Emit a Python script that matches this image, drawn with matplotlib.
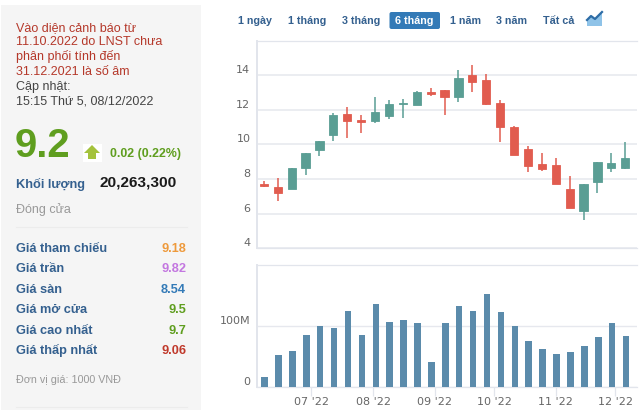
import datetime as dt
import matplotlib
matplotlib.use("Agg")
import matplotlib.pyplot as plt
import matplotlib.dates as mdates
from matplotlib.patches import Rectangle, FancyBboxPatch, Polygon
from matplotlib.transforms import ScaledTranslation

# ---------- data ----------
first_week = dt.date(2022, 6, 7)
dates = [first_week + dt.timedelta(days=7 * i) for i in range(27)]
opens = [7.70, 7.56, 7.43, 8.66, 9.68, 10.53, 11.75, 11.40, 11.36, 11.67, 12.32, 12.29, 13.04, 13.15,
         12.75, 14.00, 13.71, 12.42, 11.01, 9.72, 8.87, 8.80, 7.45, 6.18, 7.83, 8.66, 8.66]
closes = [7.60, 7.22, 8.62, 9.53, 10.20, 11.69, 11.38, 11.32, 11.86, 12.36, 12.38, 13.04, 12.90, 12.73,
          13.85, 13.63, 12.34, 11.03, 9.39, 8.78, 8.60, 7.72, 6.35, 7.72, 8.97, 8.91, 9.20]
highs = [7.89, 8.07, 8.62, 9.53, 10.20, 11.80, 12.15, 11.69, 12.77, 12.59, 12.65, 13.09, 13.27, 13.15,
         14.29, 14.58, 14.08, 12.59, 11.05, 9.93, 9.49, 9.22, 8.18, 7.72, 8.97, 9.49, 10.17]
lows = [7.56, 6.74, 7.43, 8.26, 9.34, 10.22, 10.36, 10.69, 11.26, 11.48, 11.53, 12.29, 12.82, 11.71,
        12.48, 13.06, 12.27, 10.17, 9.39, 8.43, 8.49, 7.72, 6.35, 5.66, 7.18, 8.43, 8.60]
volumes_m = [16.5, 52, 60, 86, 100, 97, 126, 86, 137, 107, 110, 105, 42, 105, 134, 125, 153, 123,
             100, 76, 62, 55, 57, 68, 82, 105, 84]
price_ticks = [4, 6, 8, 10, 12, 14]
volume_ticks = [0, 100]
volume_tick_labels = ["0", "100M"]
month_ticks = [dt.date(2022, m, 1) for m in range(7, 13)]
month_labels = ["07 '22", "08 '22", "09 '22", "10 '22", "11 '22", "12 '22"]
tabs = ["1 ngày", "1 tháng", "3 tháng", "6 tháng", "1 năm", "3 năm", "Tất cả"]
notice_lines = ["Vào diện cảnh báo từ", "11.10.2022 do LNST chưa", "phân phối tính đến", "31.12.2021 là số âm"]
update_lines = ["Cập nhật:", "15:15 Thứ 5, 08/12/2022"]
stat_names = ["Giá tham chiếu", "Giá trần", "Giá sàn", "Giá mở cửa", "Giá cao nhất", "Giá thấp nhất"]
stat_values = ["9.18", "9.82", "8.54", "9.5", "9.7", "9.06"]
stat_colors = ["#ee9a3c", "#c377e0", "#337ab7", "#5f9e1f", "#5f9e1f", "#c0392b"]

# ---------- layout ----------
W, H = 640, 413
GREEN, RED, VOL = "#5a9e94", "#e15c4f", "#5b8bab"
GRID, FRAME, TICKTXT = "#e6e8ee", "#e2e5ec", "#666666"
SANS = "Liberation Sans"
PX = 72 / 100  # points per pixel

fig = plt.figure(figsize=(W / 100, H / 100), dpi=100, facecolor="white")


def axes_px(x0, y_top, x1, y_bottom):
    return fig.add_axes([x0 / W, 1 - y_bottom / H, (x1 - x0) / W, (y_bottom - y_top) / H])


# overlay for the side panel and buttons, in pixel coordinates
ov = fig.add_axes([0, 0, 1, 1], zorder=0)
ov.set_xlim(0, W)
ov.set_ylim(H, 0)
ov.axis("off")


def txt(x, y, s, px, color, weight="normal", ha="left"):
    ov.text(x, y, s, fontsize=px * PX, color=color, fontweight=weight, ha=ha, va="baseline", family=SANS)


ov.add_patch(Rectangle((1, 5), 200, 405, fc="#f5f5f5", ec="none"))
for i, s in enumerate(notice_lines):
    txt(16, 30.7 + i * 14.7, s, 12.5, "#b5382a")
for i, s in enumerate(update_lines):
    txt(16, 90 + i * 14.7, s, 12.5, "#444444")
txt(15, 157, "9.2", 40, "#5f9e1f", "bold")
ov.add_patch(Rectangle((83, 144), 19, 18, fc="white", ec="none"))
ov.add_patch(Polygon([(92, 145), (100, 153), (96, 153), (96, 159), (88, 159), (88, 153), (84, 153)],
                     fc="#a4c23c", ec="none"))
txt(110, 157.5, "0.02 (0.22%)", 12.4, "#5f9e1f", "bold")
txt(16, 187.7, "Khối lượng", 12.8, "#34608f", "bold")
txt(99, 186.7, "20,263,300", 15.4, "#1a1a1a", "bold")
txt(16, 213.5, "Đóng cửa", 12.5, "#999999")
ov.plot([16, 187], [227, 227], color="#ececec", lw=0.8)
for i, (n, v, c) in enumerate(zip(stat_names, stat_values, stat_colors)):
    y = 252 + i * 20.4
    txt(16, y, n, 12.7, "#34608f", "bold")
    txt(186, y, v, 12.7, c, "bold", ha="right")
txt(16, 382.7, "Đơn vị giá: 1000 VNĐ", 10.7, "#999999")
ov.plot([16, 187], [407, 407], color="#ececec", lw=0.8)

tab_x = [255, 307, 361, 414.5, 466, 512, 559]
ov.add_patch(FancyBboxPatch((389.5, 12), 50.5, 17, boxstyle="round,pad=0,rounding_size=2",
                            fc="#337ab7", ec="none"))
for x, s in zip(tab_x, tabs):
    ov.text(x, 23.7, s, fontsize=10.8 * PX, color="white" if s == "6 tháng" else "#34608f",
            fontweight="bold", ha="center", va="baseline", family=SANS)
ov.add_patch(Polygon([(587, 26), (587, 20), (591, 16), (595, 19), (602, 12), (602, 26)], fc="#8fc3e8", ec="none"))
ov.plot([587, 591, 595, 602], [20, 16, 19, 12], color="#2d6ca6", lw=1.6)

# ---------- charts ----------
X0, X1 = 257.3, 637
px_per_day = 1.986
x_left = mdates.date2num(first_week) - (263.8 - X0) / px_per_day
x_right = x_left + (X1 - X0) / px_per_day
xs = mdates.date2num(dates)

ax = axes_px(X0, 41, X1, 248.3)
ax.set_xlim(x_left, x_right)
ax.set_ylim(4, 15.98)
ax.set_yticks(price_ticks)
ax.grid(axis="y", color=GRID, lw=1.1)
ax.set_axisbelow(True)
for x, o, c, h, l in zip(xs, opens, closes, highs, lows):
    col = GREEN if c >= o else RED
    ax.vlines(x, l, h, color=col, lw=1.1, zorder=2)
    ax.bar(x, abs(c - o), bottom=min(o, c), width=8.2 / px_per_day, color=col,
           edgecolor=col, lw=0.6, zorder=3)
ax.set_xticks([])

vx = axes_px(X0, 265, X1, 387)
vx.set_xlim(x_left, x_right)
vx.set_ylim(0, 201)
vx.bar(xs + 0.4, volumes_m, width=3.3, color=VOL, zorder=3)
vx.set_yticks(volume_ticks)
vx.set_yticklabels(volume_tick_labels)
vx.grid(axis="y", color=GRID, lw=1.0)
vx.set_axisbelow(True)
vx.set_xticks(mdates.date2num(month_ticks))
vx.set_xticklabels(month_labels)
vx.tick_params(axis="x", length=6.5, width=0.9, color=FRAME, pad=1, labelsize=8, labelcolor=TICKTXT)

for a in (ax, vx):
    a.patch.set_alpha(0)
    a.spines["right"].set_visible(False)
    for side in ("left", "top", "bottom"):
        a.spines[side].set_color(FRAME)
    a.spines["left"].set_linewidth(1.4)
    a.spines["top"].set_linewidth(0.9)
    a.spines["bottom"].set_linewidth(0.9)
    a.tick_params(axis="y", length=0, pad=5, labelsize=8, labelcolor=TICKTXT)
    shift = ScaledTranslation(0, 6 / 100, fig.dpi_scale_trans)
    for lab in a.get_yticklabels():
        lab.set_transform(lab.get_transform() + shift)

fig.savefig("out.png", dpi=100)
